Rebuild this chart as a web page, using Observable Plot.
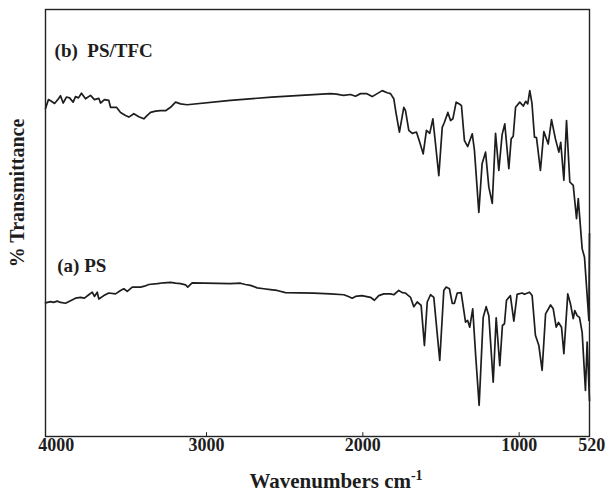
<!DOCTYPE html>
<html><head><meta charset="utf-8">
<script src="https://cdn.jsdelivr.net/npm/d3@7"></script>
<script src="https://cdn.jsdelivr.net/npm/@observablehq/plot@0.6"></script>
<style>html,body{margin:0;padding:0;background:#fff;}</style>
</head><body><div id="chart"></div>
<script>
// (b) PS/TFC spectrum: wavenumber (cm-1) and relative transmittance
const wnB = [4030,4011,3992,3972,3947,3934,3917,3896,3876,3853,3838,3819,3800,3774,3742,3717,3689,3678,3653,3625,3614,3576,3550,3518,3497,3465,3433,3401,3379,3358,3326,3294,3262,3230,3198,3166,3124,2847,2584,2209,2168,2143,2122,2079,2047,2015,1977,1940,1908,1876,1844,1823,1802,1787,1766,1738,1727,1706,1684,1657,1636,1614,1593,1572,1552,1535,1514,1492,1478,1456,1439,1424,1403,1380,1369,1350,1329,1300,1286,1258,1237,1215,1194,1172,1151,1130,1109,1092,1066,1051,1038,1023,996,974,958,945,932,918,902,889,864,842,814,793,768,746,734,714,697,676,654,633,622,597,582,554,550];
const tB = [76.8,78.9,78.5,78.0,79.1,79.8,78.1,79.5,79.3,78.3,79.6,79.3,80.4,79.1,79.9,78.9,79.2,78.1,78.9,78.7,77.1,77.1,75.9,75.2,74.8,75.6,74.9,74.4,75.2,75.9,76.2,76.3,76.3,77.1,78.3,77.9,77.7,78.7,79.5,80.3,80.2,80.0,79.9,80.1,79.7,80.3,80.3,79.6,80.3,81.0,80.5,80.3,79.1,75.6,71.3,77.1,76.3,71.7,71.0,71.3,68.9,66.2,71.7,71.0,74.4,68.5,61.1,72.4,73.6,75.9,74.0,74.4,78.3,77.8,77.5,69.3,67.9,70.9,67.0,52.5,63.9,66.6,58.4,54.6,71.0,62.3,70.7,73.2,62.7,69.7,70.3,77.1,78.3,77.4,78.5,77.9,81.0,78.0,70.1,70.0,62.3,71.4,68.5,74.2,69.7,66.6,68.9,60.0,74.0,59.6,58.8,51.0,55.7,44.0,42.0,27.2,47.5];

// (a) PS spectrum
const wnA = [4030,3998,3979,3955,3934,3902,3870,3838,3806,3781,3753,3731,3717,3699,3689,3657,3625,3582,3550,3529,3507,3475,3422,3397,3369,3315,3273,3230,3198,3166,3134,3120,3092,2847,2783,2751,2719,2676,2634,2591,2548,2495,2314,2207,2122,2092,2068,2047,2006,1951,1926,1898,1866,1823,1802,1770,1748,1727,1695,1674,1652,1627,1606,1588,1567,1546,1508,1482,1467,1446,1428,1414,1396,1371,1343,1330,1316,1297,1279,1256,1230,1211,1194,1166,1147,1124,1107,1094,1081,1056,1034,1013,981,966,934,917,896,874,853,831,799,782,763,748,729,714,689,672,654,644,629,614,597,576,565,550];
const tA = [31.3,31.6,31.4,31.7,31.4,31.2,31.8,32.4,32.6,32.4,33.2,33.8,32.8,33.8,32.2,33.0,33.6,33.4,34.2,34.6,34.0,35.0,35.0,35.2,35.6,35.8,36.0,36.1,35.9,35.8,35.5,35.0,36.0,35.8,35.9,35.6,35.4,34.8,34.6,34.4,34.2,33.7,33.6,33.4,33.2,32.8,32.4,32.8,33.0,32.6,31.9,33.0,33.4,33.4,33.2,34.2,33.7,33.6,32.6,30.4,31.5,30.7,21.3,31.5,33.2,32.6,17.8,34.2,35.0,34.6,31.2,31.2,33.6,33.7,26.8,27.2,25.6,29.9,19.4,7.3,27.9,30.4,28.3,12.7,27.8,16.6,26.0,26.4,31.9,33.0,27.0,33.3,33.6,33.3,33.8,33.0,23.7,21.3,15.5,28.7,30.8,29.9,25.6,26.7,25.6,19.4,33.4,31.1,27.6,29.5,28.3,27.9,24.4,10.8,22.1,8.4];

// axis ticks
const innerTicks = [3000, 2000, 1000];
const midTickLabels = [3000, 2000, 1000];
const firstTickLabel = [4000];
const lastTickLabel = [520];

// series labels
const seriesLabels = [
  {label: "(b)\u00a0 PS/TFC", wn: 3972, t: 90.2},
  {label: "(a) PS", wn: 3955, t: 40.0}
];

const rowsA = wnA.map((w, i) => ({wn: w, t: tA[i]}));
const rowsB = wnB.map((w, i) => ({wn: w, t: tB[i]}));

const FONT = "'Liberation Serif','Times New Roman',Times,serif";
const INK = "#1d1d1d";

const chart = Plot.plot({
  width: 608, height: 495,
  marginLeft: 45, marginRight: 19, marginTop: 9, marginBottom: 59,
  style: {fontFamily: FONT, background: "#fff", color: INK},
  x: {domain: [4030, 550], axis: null},
  y: {domain: [0, 100], axis: null},
  marks: [
    Plot.line(rowsB, {x: "wn", y: "t", stroke: INK, strokeWidth: 1.7, strokeLinejoin: "round"}),
    Plot.line(rowsA, {x: "wn", y: "t", stroke: INK, strokeWidth: 1.7, strokeLinejoin: "round"}),
    Plot.frame({stroke: "#222", strokeWidth: 1.4}),
    Plot.ruleX(innerTicks, {x: d => d, y1: 0, y2: 0.9, stroke: "#222", strokeWidth: 1}),
    Plot.text(midTickLabels, {x: d => d, text: d => String(d), frameAnchor: "bottom", dy: 14, fontSize: 18, fontWeight: "bold", fill: INK}),
    Plot.text(firstTickLabel, {x: d => d, text: d => String(d), frameAnchor: "bottom", dy: 14, dx: -12, textAnchor: "start", fontSize: 18, fontWeight: "bold", fill: INK}),
    Plot.text(lastTickLabel, {x: d => d, text: d => String(d), frameAnchor: "bottom", dy: 14, dx: 11, textAnchor: "end", fontSize: 18, fontWeight: "bold", fill: INK}),
    Plot.text(seriesLabels, {x: "wn", y: "t", text: "label", textAnchor: "start", fontSize: 19, fontWeight: "bold", fill: INK}),
    Plot.text(["% Transmittance"], {frameAnchor: "left", textAnchor: "middle", dx: -28, dy: -30, rotate: -90, fontSize: 20, fontWeight: "bold", fill: INK})
  ]
});

// x-axis title with superscript
const svg = d3.select(chart);
const title = svg.append("text")
  .attr("x", 336).attr("y", 488)
  .attr("text-anchor", "middle")
  .attr("font-family", FONT)
  .attr("font-weight", "bold")
  .attr("font-size", 21)
  .attr("fill", INK);
title.append("tspan").text("Wavenumbers cm");
title.append("tspan").attr("dy", -8).attr("font-size", 14).text("-1");

document.getElementById("chart").appendChild(chart);
</script>
</body></html>
